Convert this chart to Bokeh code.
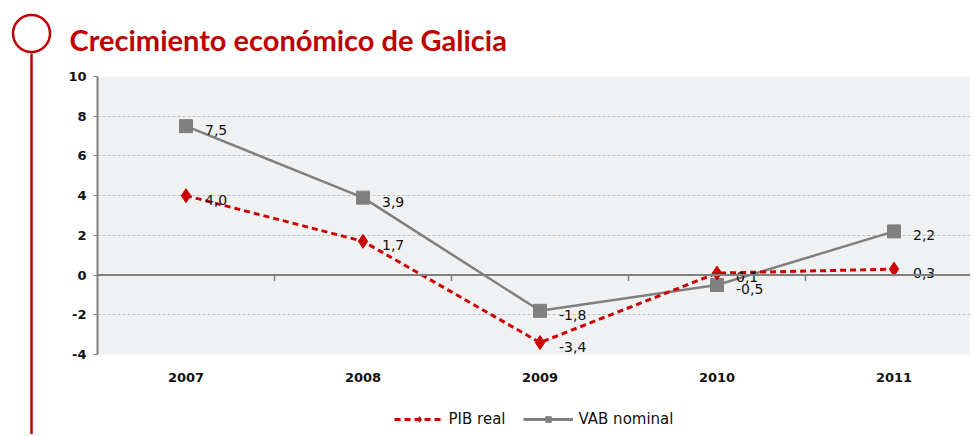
from bokeh.plotting import figure
from bokeh.models import (Range1d, ColumnDataSource, Legend, LegendItem, Span, FixedTicker)
from bokeh.layouts import row, column
from bokeh.embed import file_html
from bokeh.resources import INLINE
from bokeh.core.properties import value

# ---- data ----
years = ["2007", "2008", "2009", "2010", "2011"]
pib_real = [4.0, 1.7, -3.4, 0.1, 0.3]
vab_nominal = [7.5, 3.9, -1.8, -0.5, 2.2]
y_ticks = [-4, -2, 0, 2, 4, 6, 8, 10]
series_names = ["PIB real", "VAB nominal"]
title_text = "Crecimiento económico de Galicia"

RED = "#C00000"
PIB_RED = "#CC0000"
GRAY = "#808080"
FONT = "DejaVu Sans"

def fmt(v):
    return f"{v:.1f}".replace(".", ",")

xs = [i + 0.5 for i in range(len(years))]
bounds = [i for i in range(1, len(years))]
src = ColumnDataSource(dict(
    x=xs, pib=pib_real, vab=vab_nominal,
    pib_lbl=[fmt(v) for v in pib_real],
    vab_lbl=[fmt(v) for v in vab_nominal],
))

# ---- left decoration (circle + vertical line), pixel-like coordinates ----
d = figure(width=60, height=434, x_range=Range1d(0, 60), y_range=Range1d(434, 0),
           output_backend="svg", toolbar_location=None, min_border=0,
           x_axis_location=None, y_axis_location=None, outline_line_color=None)
d.grid.visible = False
d.segment(x0=[31], y0=[53], x1=[31], y1=[434], line_color=RED, line_width=2.5)
d.scatter(x=[31], y=[33], marker="circle", size=37, fill_color="white",
          line_color=RED, line_width=2.5)

# ---- main chart ----
p = figure(width=910, height=390, x_range=Range1d(0, 873 / 177), y_range=Range1d(-4, 10),
           output_backend="svg", toolbar_location=None,
           min_border_left=37, min_border_right=0, min_border_top=74, min_border_bottom=36,
           background_fill_color="#F0F1F3", border_fill_color="white",
           outline_line_color=None, title=title_text)

p.title.align = "left"
p.title.offset = -28
p.title.standoff = 39
p.title.text_font = "Lato"
p.title.text_font_size = "29px"
p.title.text_font_style = "bold"
p.title.text_color = RED

# y axis
p.yaxis.ticker = FixedTicker(ticks=y_ticks)
p.yaxis.major_label_overrides = {t: str(t) for t in y_ticks}
p.yaxis.axis_line_color = GRAY
p.yaxis.axis_line_width = 2
p.yaxis.major_tick_line_color = GRAY
p.yaxis.major_tick_out = 4
p.yaxis.major_tick_in = 0
p.yaxis.minor_tick_line_color = None
p.yaxis.major_label_standoff = 7
p.yaxis.major_label_text_font = FONT
p.yaxis.major_label_text_font_size = "13px"
p.yaxis.major_label_text_font_style = "bold"
p.yaxis.major_label_text_color = "#111111"

# x axis (category labels at bottom)
p.xaxis.ticker = FixedTicker(ticks=xs)
p.xaxis.major_label_overrides = {x: y for x, y in zip(xs, years)}
p.xaxis.axis_line_color = None
p.xaxis.major_tick_line_color = None
p.xaxis.minor_tick_line_color = None
p.xaxis.major_label_standoff = 12
p.xaxis.major_label_text_font = FONT
p.xaxis.major_label_text_font_size = "13px"
p.xaxis.major_label_text_font_style = "bold"
p.xaxis.major_label_text_color = "#111111"

# grid
p.xgrid.visible = False
p.ygrid.ticker = FixedTicker(ticks=y_ticks)
p.ygrid.grid_line_color = "#BFBFBF"
p.ygrid.grid_line_dash = "3 2"
p.ygrid.grid_line_width = 1

# zero axis line with category-boundary ticks
p.add_layout(Span(location=0, dimension="width", line_color=GRAY, line_width=2))
p.segment(x0=bounds, y0=[0] * len(bounds), x1=bounds, y1=[-0.3] * len(bounds),
          line_color=GRAY, line_width=1.5)

# series
p.line("x", "vab", source=src, line_color=GRAY, line_width=2.5)
p.scatter("x", "vab", source=src, marker="square", size=13, fill_color=GRAY, line_color=GRAY)
p.line("x", "pib", source=src, line_color=PIB_RED, line_width=3, line_dash="6 4")
p.scatter("x", "pib", source=src, marker="diamond", size=14, fill_color=PIB_RED, line_color=PIB_RED)

# data labels
for col, lab in (("vab", "vab_lbl"), ("pib", "pib_lbl")):
    p.text("x", col, text=lab, source=src, x_offset=19, y_offset=4,
           text_baseline="middle", text_align="left",
           text_font=value(FONT), text_font_size="14px", text_color="#111111")

# ---- legend strip (legend glyph renderers kept outside the visible range) ----
lf = figure(width=910, height=40, x_range=Range1d(0, 1), y_range=Range1d(0, 1),
            output_backend="svg", toolbar_location=None, min_border=0,
            x_axis_location=None, y_axis_location=None, outline_line_color=None)
lf.grid.visible = False
off = dict(x=[5, 6], y=[5, 6])
l_pib = lf.line(x=off["x"], y=off["y"], line_color=PIB_RED, line_width=3, line_dash="6 4")
s_pib = lf.scatter(x=off["x"], y=off["y"], marker="diamond", size=11,
                   fill_color=PIB_RED, line_color=PIB_RED)
l_vab = lf.line(x=off["x"], y=off["y"], line_color=GRAY, line_width=3)
s_vab = lf.scatter(x=off["x"], y=off["y"], marker="square", size=10,
                   fill_color=GRAY, line_color=GRAY)

legend = Legend(items=[
    LegendItem(label=series_names[0], renderers=[l_pib, s_pib]),
    LegendItem(label=series_names[1], renderers=[l_vab, s_vab]),
], orientation="horizontal", location="bottom_center")
legend.glyph_width = 50
legend.glyph_height = 14
legend.label_standoff = 5
legend.label_text_font = FONT
legend.label_text_font_size = "15px"
legend.label_text_color = "#111111"
legend.background_fill_alpha = 0
legend.border_line_color = None
legend.spacing = 18
legend.margin = 2
legend.padding = 2
lf.add_layout(legend)

layout = row(d, column(p, lf))
open("out.html", "w").write(file_html(layout, INLINE))
